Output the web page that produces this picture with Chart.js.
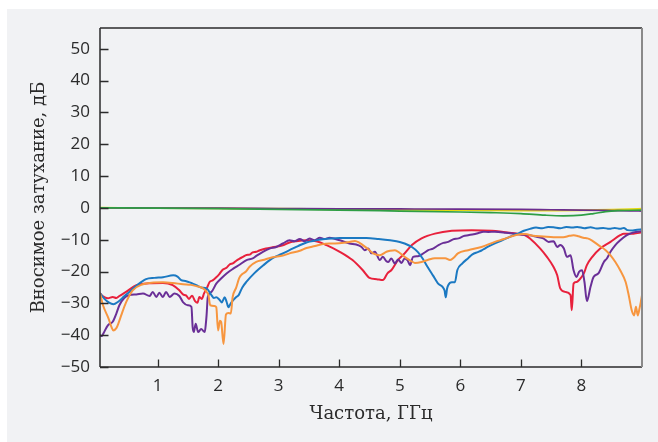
<!DOCTYPE html>
<html>
<head>
<meta charset="utf-8">
<script src="https://cdn.jsdelivr.net/npm/chart.js@4/dist/chart.umd.min.js"></script>
<style>
  html, body { margin: 0; padding: 0; background: #ffffff; }
  #wrap { width: 658px; height: 442px; position: relative; }
</style>
</head>
<body>
<div id="wrap"><canvas id="c" width="658" height="442"></canvas></div>
<script>
// Axis ticks
const freqTicks = [1, 2, 3, 4, 5, 6, 7, 8];
const lossTicks = [-50, -40, -30, -20, -10, 0, 10, 20, 30, 40, 50];

// Near-zero traces (through path)
const zeroFreq = [0.05, 1, 2, 3, 4, 5, 6, 7, 7.5, 8, 8.5, 8.8, 9];
const yellowLoss = [0, -0.05, -0.15, -0.3, -0.45, -0.6, -0.7, -0.8, -0.8, -0.75, -0.6, -0.45, -0.3];
const violetLoss = [0, -0.05, -0.1, -0.2, -0.3, -0.35, -0.4, -0.5, -0.6, -0.7, -0.85, -0.95, -1.0];
const greenFreq = [0.05, 1, 2, 3, 4, 5, 6, 6.5, 7, 7.4, 7.7, 8.0, 8.2, 8.4, 8.6, 9];
const greenLoss = [0, -0.1, -0.25, -0.45, -0.7, -1.0, -1.3, -1.5, -1.8, -2.3, -2.5, -2.3, -1.8, -1.2, -0.9, -0.7];

// Blue trace
const blueFreq = [0.05, 0.12, 0.20, 0.27, 0.35, 0.45, 0.53, 0.65, 0.81, 0.95, 1.09, 1.26, 1.33, 1.39, 1.46, 1.53, 1.58, 1.64, 1.72, 1.81, 1.89, 1.93, 1.97, 2.02, 2.06, 2.11, 2.14, 2.17, 2.21, 2.25, 2.30, 2.34, 2.40, 2.47, 2.60, 2.75, 2.90, 3.05, 3.18, 3.32, 3.47, 3.60, 3.73, 3.87, 4.01, 4.20, 4.45, 4.65, 4.84, 5.00, 5.08, 5.20, 5.30, 5.38, 5.46, 5.55, 5.63, 5.71, 5.74, 5.76, 5.78, 5.80, 5.86, 5.91, 5.95, 6.03, 6.13, 6.20, 6.29, 6.35, 6.41, 6.50, 6.60, 6.69, 6.80, 6.88, 6.96, 7.05, 7.15, 7.25, 7.35, 7.45, 7.54, 7.65, 7.75, 7.85, 7.93, 8.05, 8.15, 8.25, 8.36, 8.46, 8.55, 8.64, 8.70, 8.76, 8.85, 8.92, 9.00];
const blueLoss = [-26.8, -28.5, -29.8, -30.3, -29.5, -27.8, -26.5, -24.5, -22.4, -22.0, -21.8, -21.2, -21.6, -22.7, -23.0, -23.4, -23.8, -24.3, -25.0, -25.3, -27.4, -28.3, -28.1, -28.8, -29.7, -28.1, -29.5, -31.2, -30.0, -29.0, -28.0, -27.4, -25.0, -23.2, -20.5, -18.0, -15.8, -14.5, -13.3, -12.0, -10.8, -10.3, -9.9, -9.6, -9.5, -9.5, -9.5, -9.8, -10.2, -10.7, -11.2, -12.3, -13.9, -16.0, -18.6, -21.3, -23.7, -24.9, -26.0, -28.1, -25.5, -24.3, -23.4, -23.4, -19.6, -17.5, -15.8, -14.6, -13.9, -13.4, -12.7, -11.8, -10.9, -10.2, -9.3, -8.6, -8.0, -7.2, -6.6, -6.2, -6.4, -6.0, -6.1, -6.4, -6.0, -6.2, -6.0, -6.4, -6.1, -6.5, -6.3, -6.6, -6.3, -6.6, -6.3, -7.0, -7.1, -6.9, -6.7];

// Orange trace
const orangeFreq = [0.05, 0.10, 0.19, 0.24, 0.27, 0.32, 0.36, 0.40, 0.48, 0.59, 0.76, 0.90, 1.09, 1.25, 1.42, 1.55, 1.64, 1.75, 1.80, 1.84, 1.87, 1.94, 1.97, 2.00, 2.03, 2.05, 2.09, 2.13, 2.17, 2.21, 2.24, 2.30, 2.35, 2.40, 2.46, 2.52, 2.63, 2.74, 2.90, 3.07, 3.18, 3.35, 3.46, 3.60, 3.73, 3.88, 4.00, 4.17, 4.26, 4.33, 4.39, 4.48, 4.56, 4.67, 4.78, 4.84, 4.92, 5.00, 5.08, 5.17, 5.25, 5.36, 5.47, 5.58, 5.75, 5.83, 5.90, 5.96, 6.13, 6.35, 6.57, 6.72, 6.85, 6.99, 7.07, 7.20, 7.37, 7.54, 7.70, 7.80, 7.87, 7.95, 8.03, 8.10, 8.17, 8.28, 8.40, 8.48, 8.56, 8.64, 8.73, 8.78, 8.83, 8.87, 8.90, 8.93, 8.96, 8.98, 9.00];
const orangeLoss = [-26.8, -30.6, -34.7, -37.5, -38.5, -37.8, -36.0, -33.8, -29.7, -25.9, -24.0, -23.5, -23.4, -23.6, -24.0, -24.2, -24.6, -25.3, -26.2, -27.4, -30.6, -30.8, -31.2, -38.5, -35.5, -35.8, -42.8, -33.5, -33.0, -33.2, -28.1, -25.0, -22.0, -20.8, -20.0, -18.5, -17.0, -16.4, -15.5, -15.0, -14.3, -13.5, -12.6, -12.0, -11.4, -11.2, -11.1, -10.7, -10.4, -10.9, -11.7, -13.0, -14.3, -14.9, -13.8, -13.5, -13.3, -14.2, -15.4, -16.5, -17.3, -17.0, -16.3, -15.8, -15.8, -16.4, -15.5, -14.3, -13.3, -12.3, -10.7, -9.8, -8.9, -8.3, -8.2, -8.8, -9.0, -9.2, -9.2, -8.8, -8.6, -8.9, -9.4, -9.6, -10.2, -11.7, -13.3, -14.9, -17.0, -19.6, -23.3, -27.4, -32.2, -33.8, -31.1, -33.8, -31.5, -29.6, -27.4];

// Red trace
const redFreq = [0.05, 0.10, 0.18, 0.26, 0.32, 0.37, 0.48, 0.65, 0.86, 1.09, 1.25, 1.36, 1.42, 1.47, 1.52, 1.57, 1.62, 1.66, 1.69, 1.73, 1.77, 1.82, 1.86, 1.91, 1.97, 2.02, 2.08, 2.14, 2.19, 2.25, 2.30, 2.35, 2.41, 2.47, 2.52, 2.57, 2.63, 2.68, 2.79, 2.90, 3.07, 3.18, 3.29, 3.46, 3.62, 3.79, 4.01, 4.22, 4.39, 4.50, 4.62, 4.72, 4.80, 4.86, 4.97, 5.08, 5.20, 5.36, 5.58, 5.86, 6.19, 6.52, 6.85, 6.99, 7.07, 7.15, 7.32, 7.43, 7.54, 7.60, 7.65, 7.73, 7.82, 7.84, 7.87, 7.92, 7.96, 8.04, 8.09, 8.18, 8.31, 8.48, 8.64, 8.70, 8.86, 9.00];
const redLoss = [-26.8, -27.8, -28.4, -28.0, -28.3, -27.7, -26.4, -24.3, -23.7, -23.6, -24.3, -25.9, -27.2, -27.5, -28.6, -27.6, -29.3, -29.8, -28.0, -28.6, -26.8, -25.0, -23.3, -22.8, -21.8, -20.8, -19.4, -18.8, -17.8, -17.4, -16.6, -16.0, -15.4, -14.8, -14.7, -14.0, -13.8, -13.4, -12.8, -12.4, -11.8, -10.9, -10.5, -10.2, -10.5, -11.7, -13.8, -16.4, -19.6, -22.0, -22.4, -22.7, -20.5, -19.6, -16.4, -14.3, -11.7, -9.6, -8.1, -7.2, -7.0, -7.2, -7.9, -8.3, -8.6, -9.6, -12.8, -15.4, -18.6, -21.2, -25.3, -26.4, -27.4, -32.2, -23.8, -23.3, -22.7, -20.6, -18.0, -15.4, -12.8, -10.7, -8.6, -8.1, -8.1, -7.7];

// Purple trace
const purpleFreq = [0.05, 0.08, 0.11, 0.18, 0.26, 0.32, 0.37, 0.45, 0.54, 0.65, 0.76, 0.87, 0.92, 0.98, 1.03, 1.09, 1.14, 1.20, 1.28, 1.36, 1.42, 1.50, 1.56, 1.58, 1.60, 1.63, 1.67, 1.72, 1.78, 1.80, 1.81, 1.83, 1.89, 1.97, 2.05, 2.14, 2.25, 2.36, 2.47, 2.57, 2.63, 2.74, 2.85, 2.96, 3.07, 3.18, 3.26, 3.35, 3.43, 3.51, 3.59, 3.68, 3.76, 3.84, 4.01, 4.17, 4.28, 4.37, 4.42, 4.48, 4.53, 4.59, 4.67, 4.72, 4.78, 4.81, 4.86, 4.92, 4.97, 5.03, 5.08, 5.13, 5.17, 5.22, 5.30, 5.39, 5.47, 5.55, 5.64, 5.72, 5.80, 5.88, 5.97, 6.05, 6.13, 6.22, 6.30, 6.38, 6.46, 6.57, 6.75, 6.99, 7.15, 7.26, 7.37, 7.46, 7.54, 7.60, 7.65, 7.71, 7.76, 7.82, 7.87, 7.92, 7.96, 8.01, 8.05, 8.09, 8.15, 8.20, 8.28, 8.37, 8.42, 8.48, 8.56, 8.64, 8.75, 8.86, 9.00];
const purpleLoss = [-40.0, -40.3, -39.3, -36.9, -35.8, -33.2, -30.6, -28.3, -27.4, -27.2, -26.9, -27.7, -26.4, -28.0, -26.7, -28.0, -26.4, -28.0, -26.9, -27.7, -29.6, -30.6, -31.1, -37.5, -39.0, -36.4, -39.0, -38.1, -39.0, -36.0, -33.7, -28.0, -26.4, -23.8, -22.2, -20.6, -19.1, -17.8, -16.4, -15.9, -15.1, -13.8, -12.8, -12.3, -11.2, -10.2, -10.5, -9.8, -10.5, -9.6, -10.2, -9.4, -9.8, -9.4, -10.2, -11.2, -11.5, -12.3, -13.3, -12.8, -14.3, -13.8, -16.4, -15.4, -16.8, -17.0, -15.9, -17.5, -16.2, -17.3, -15.9, -16.5, -18.0, -15.4, -15.2, -14.3, -13.3, -12.8, -11.7, -11.0, -10.7, -9.9, -9.6, -8.9, -8.6, -8.3, -7.9, -7.5, -7.6, -7.5, -7.8, -8.4, -8.6, -9.1, -9.6, -10.7, -10.5, -12.3, -11.7, -12.8, -15.4, -14.9, -19.6, -21.7, -20.1, -19.6, -23.3, -29.3, -24.8, -21.7, -20.6, -17.0, -15.9, -13.8, -11.7, -10.2, -8.6, -7.7, -7.3];

function pts(xs, ys) { return xs.map((x, i) => ({ x: x, y: ys[i] })); }

function trace(label, xs, ys, color, width) {
  return {
    label: label,
    data: pts(xs, ys),
    borderColor: color,
    backgroundColor: color,
    borderWidth: width,
    pointRadius: 0,
    fill: false,
    tension: 0,
    cubicInterpolationMode: 'monotone'
  };
}

const INK = '#2b2b2b';

// Panel background and plot frame with inward tick marks
const panel = {
  id: 'panel',
  beforeDraw(chart) {
    const ctx = chart.ctx;
    ctx.save();
    ctx.fillStyle = '#ffffff';
    ctx.fillRect(0, 0, chart.width, chart.height);
    ctx.fillStyle = '#f1f2f4';
    ctx.fillRect(7, 9, chart.width - 7, chart.height - 9);
    ctx.restore();
  },
  afterDraw(chart) {
    const ctx = chart.ctx;
    const a = chart.chartArea;
    const xs = chart.scales.x, ys = chart.scales.y;
    ctx.save();
    ctx.lineCap = 'butt';
    ctx.strokeStyle = INK;
    ctx.lineWidth = 1.5;
    ctx.beginPath();
    ctx.moveTo(a.left, a.top); ctx.lineTo(a.right, a.top);
    ctx.moveTo(a.left, a.top); ctx.lineTo(a.left, a.bottom);
    ctx.moveTo(a.left, a.bottom); ctx.lineTo(a.right, a.bottom);
    ctx.stroke();
    ctx.strokeStyle = '#8a8a8a';
    ctx.lineWidth = 2;
    ctx.beginPath();
    ctx.moveTo(a.right, a.top); ctx.lineTo(a.right, a.bottom);
    ctx.stroke();
    ctx.strokeStyle = INK;
    ctx.lineWidth = 1.3;
    ctx.beginPath();
    ys.ticks.forEach(t => {
      const p = Math.round(ys.getPixelForValue(t.value)) + 0.5;
      ctx.moveTo(a.left, p); ctx.lineTo(a.left + 8.5, p);
    });
    xs.ticks.forEach(t => {
      const p = Math.round(xs.getPixelForValue(t.value)) + 0.5;
      ctx.moveTo(p, a.bottom); ctx.lineTo(p, a.bottom - 7.5);
    });
    ctx.stroke();
    ctx.restore();
  }
};

const tickFont = { family: '"Open Sans", "Noto Sans", sans-serif', size: 17 };
const titleFont = { family: '"DejaVu Serif", serif', size: 18 };

new Chart(document.getElementById('c'), {
  type: 'line',
  data: {
    datasets: [
      trace('green', greenFreq, greenLoss, '#2e9e45', 1.7),
      trace('violet', zeroFreq, violetLoss, '#6b2d8f', 1.7),
      trace('yellow', zeroFreq, yellowLoss, '#e6da10', 2.0),
      trace('orange', orangeFreq, orangeLoss, '#f7963f', 2.0),
      trace('blue', blueFreq, blueLoss, '#1b79c2', 2.0),
      trace('purple', purpleFreq, purpleLoss, '#6a2f97', 2.0),
      trace('red', redFreq, redLoss, '#e8213c', 2.0)
    ]
  },
  options: {
    responsive: false,
    animation: false,
    events: [],
    layout: { padding: { left: 0, top: 28, right: 16, bottom: 0 } },
    plugins: { legend: { display: false }, tooltip: { enabled: false } },
    scales: {
      x: {
        type: 'linear',
        min: 0.05,
        max: 9.0,
        afterFit(s) { s.height = 75; },
        afterBuildTicks(s) { s.ticks = freqTicks.map(v => ({ value: v })); },
        grid: { display: false, drawTicks: false },
        border: { display: false },
        ticks: { color: INK, font: tickFont, padding: 9, maxRotation: 0, autoSkip: false },
        title: { display: true, text: 'Частота, ГГц', color: INK, font: titleFont, padding: { top: 0, bottom: 17 } }
      },
      y: {
        type: 'linear',
        min: -50,
        max: 56.5,
        afterFit(s) { s.width = 100; },
        afterBuildTicks(s) { s.ticks = lossTicks.map(v => ({ value: v })); },
        grid: { display: false, drawTicks: false },
        border: { display: false },
        ticks: {
          color: INK, font: tickFont, padding: 10, autoSkip: false,
          callback: v => (v < 0 ? '\u2212' + Math.abs(v) : String(v))
        },
        title: { display: true, text: 'Вносимое затухание, дБ', color: INK, font: titleFont, padding: { top: 29, bottom: 0 } }
      }
    }
  },
  plugins: [panel]
});
</script>
</body>
</html>
